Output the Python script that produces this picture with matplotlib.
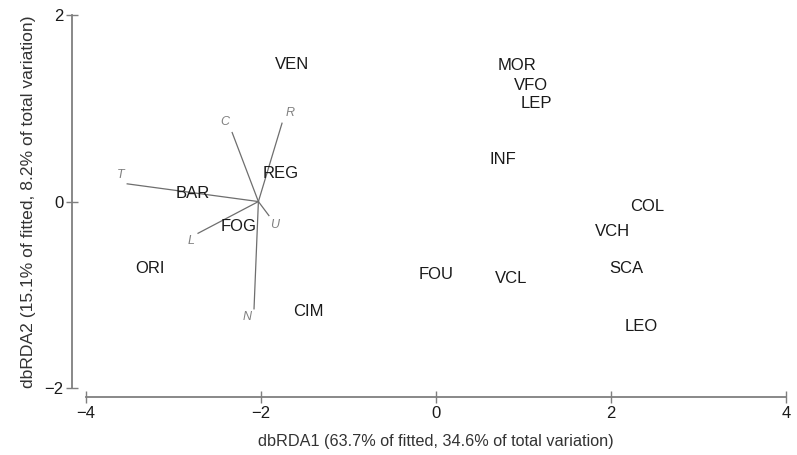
import matplotlib
matplotlib.use("Agg")
import matplotlib.pyplot as plt

plt.rcParams['font.family'] = ['Liberation Sans', 'DejaVu Sans']

# site scores (label positions)
sites = ["VEN", "MOR", "VFO", "LEP", "INF", "REG", "BAR", "COL", "FOG",
         "VCH", "ORI", "FOU", "SCA", "VCL", "CIM", "LEO"]
site_x = [-1.65, 0.93, 1.09, 1.15, 0.77, -1.77, -2.78, 2.42, -2.26,
          2.02, -3.27, 0.0, 2.18, 0.86, -1.46, 2.35]
site_y = [1.47, 1.46, 1.24, 1.05, 0.45, 0.30, 0.09, -0.05, -0.27,
          -0.32, -0.72, -0.78, -0.72, -0.83, -1.18, -1.34]

# environmental vectors, drawn from a common origin
origin = (-2.03, 0.0)
vec_names = ["T", "C", "R", "U", "L", "N"]
vec_x = [-3.53, -2.33, -1.76, -1.91, -2.72, -2.08]
vec_y = [0.19, 0.74, 0.84, -0.15, -0.34, -1.15]
vec_lab_x = [-3.60, -2.41, -1.67, -1.84, -2.80, -2.16]
vec_lab_y = [0.29, 0.85, 0.95, -0.25, -0.42, -1.24]

fig = plt.figure(figsize=(7.97, 4.55), dpi=100)
ax = fig.add_axes([0.108, 0.147, 0.878, 0.820])

for vx, vy, lx, ly, name in zip(vec_x, vec_y, vec_lab_x, vec_lab_y, vec_names):
    ax.plot([origin[0], vx], [origin[1], vy], color='#6e6e6e', lw=0.9)
    ax.text(lx, ly, name, ha='center', va='center', fontsize=9,
            style='italic', color='#808080')

for name, x, y in zip(sites, site_x, site_y):
    ax.text(x, y, name, ha='center', va='center', fontsize=12, color='#1a1a1a')

ax.set_xlim(-4, 4)
ax.set_ylim(-2, 2)
ax.set_xticks([-4, -2, 0, 2, 4])
ax.set_yticks([-2, 0, 2])

for side in ['top', 'right']:
    ax.spines[side].set_visible(False)
ax.spines['left'].set_position(('outward', 10))
ax.spines['bottom'].set_position(('outward', 6.5))
for side in ['left', 'bottom']:
    ax.spines[side].set_color('#7f7f7f')
    ax.spines[side].set_linewidth(1.3)
ax.tick_params(direction='inout', length=9, width=1.0, color='#7f7f7f',
               labelsize=12, labelcolor='#1a1a1a', pad=2)

ax.set_xlabel('dbRDA1 (63.7% of fitted, 34.6% of total variation)',
              fontsize=11.7, color='#333333', labelpad=9)
ax.set_ylabel('dbRDA2 (15.1% of fitted, 8.2% of total variation)',
              fontsize=12.6, color='#333333', labelpad=6)

fig.savefig('out.png', dpi=100)
